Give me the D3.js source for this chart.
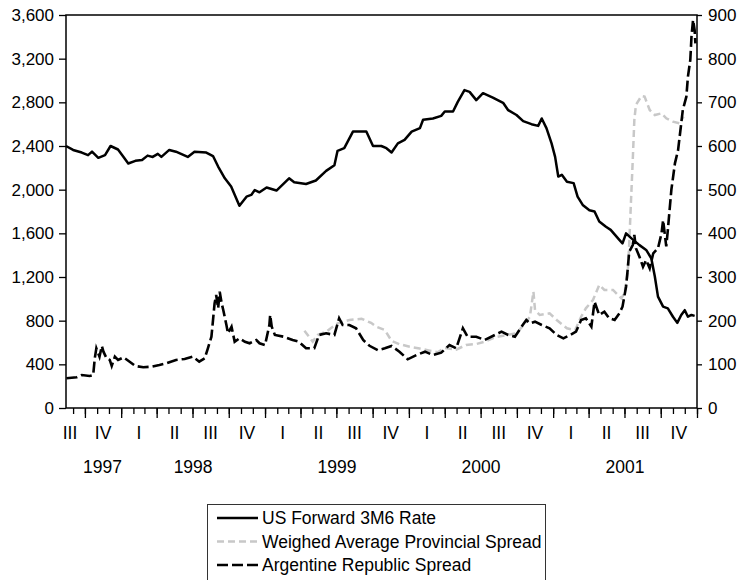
<!DOCTYPE html>
<html>
<head>
<meta charset="utf-8">
<script src="https://cdn.jsdelivr.net/npm/d3@7/dist/d3.min.js"></script>
<style>
  body { margin: 0; background: #fff; }
  text { font-family: Arial, "Liberation Sans", sans-serif; font-size: 17.5px; fill: #000; }
</style>
</head>
<body>
<div id="chart"></div>
<script>
// series values, [date, value]
var usRate = [
  ["1997-08-14",600],["1997-09-01",591],["1997-09-23",585],["1997-10-09",579],["1997-10-19",587],
  ["1997-11-04",573],["1997-11-21",579],["1997-12-05",600],["1997-12-24",592],["1998-01-07",575],
  ["1998-01-19",560],["1998-02-06",566],["1998-02-23",568],["1998-03-09",578],["1998-03-22",575],
  ["1998-04-04",582],["1998-04-13",575],["1998-05-03",591],["1998-05-20",587],["1998-06-19",575],
  ["1998-07-06",587],["1998-08-05",585],["1998-08-22",577],["1998-09-04",553],["1998-09-21",526],
  ["1998-10-07",507],["1998-10-28",463],["1998-11-15",484],["1998-11-27",488],["1998-12-06",499],
  ["1998-12-18",494],["1999-01-05",505],["1999-01-30",498],["1999-03-03",526],["1999-03-16",517],
  ["1999-04-15",513],["1999-05-10",521],["1999-06-05",543],["1999-06-26",556],["1999-07-04",589],
  ["1999-07-21",595],["1999-08-12",633],["1999-09-15",633],["1999-10-02",600],["1999-10-23",600],
  ["1999-11-05",595],["1999-11-18",585],["1999-12-04",606],["1999-12-21",614],["2000-01-08",633],
  ["2000-01-29",641],["2000-02-06",660],["2000-03-02",663],["2000-03-23",669],["2000-04-01",679],
  ["2000-04-22",679],["2000-05-04",701],["2000-05-21",728],["2000-06-03",724],["2000-06-20",705],
  ["2000-07-07",721],["2000-08-01",711],["2000-08-27",699],["2000-09-09",682],["2000-09-30",671],
  ["2000-10-17",657],["2000-11-07",650],["2000-11-24",646],["2000-12-03",663],["2000-12-15",641],
  ["2000-12-28",606],["2001-01-06",575],["2001-01-14",530],["2001-01-23",534],["2001-02-05",518],
  ["2001-02-22",515],["2001-03-04",484],["2001-03-17",465],["2001-04-03",453],["2001-04-16",450],
  ["2001-04-28",427],["2001-05-15",415],["2001-05-27",408],["2001-06-18",385],["2001-06-26",377],
  ["2001-07-05",400],["2001-07-18",389],["2001-08-08",373],["2001-08-25",362],["2001-09-07",343],
  ["2001-09-16",301],["2001-09-24",255],["2001-10-07",232],["2001-10-19",228],["2001-11-01",209],
  ["2001-11-12",195],["2001-11-22",213],["2001-12-01",224],["2001-12-09",209],["2001-12-18",213],
  ["2001-12-26",211]
];

var provSpread = [
  ["1999-04-11",708],["1999-05-02",607],["1999-05-14",669],["1999-06-05",699],["1999-07-04",776],
  ["1999-08-03",806],["1999-09-03",817],["1999-09-27",780],["1999-10-10",745],["1999-11-01",714],
  ["1999-11-18",615],["1999-12-08",585],["2000-01-03",561],["2000-01-28",545],["2000-02-23",525],
  ["2000-03-14",510],["2000-04-01",550],["2000-04-30",535],["2000-05-25",577],["2000-06-20",586],
  ["2000-07-11",607],["2000-08-06",647],["2000-09-05",669],["2000-09-30",684],["2000-10-25",791],
  ["2000-11-03",836],["2000-11-12",1065],["2000-11-16",898],["2000-11-28",852],["2000-12-23",867],
  ["2001-01-10",806],["2001-02-05",730],["2001-02-26",714],["2001-03-13",836],["2001-03-25",913],
  ["2001-04-12",989],["2001-04-28",1127],["2001-05-11",1081],["2001-06-02",1081],["2001-06-23",1005],
  ["2001-07-01",1051],["2001-07-09",1234],["2001-07-13",1500],["2001-07-18",1935],["2001-07-22",2272],
  ["2001-07-26",2638],["2001-07-30",2776],["2001-08-13",2858],["2001-08-21",2852],["2001-09-03",2730],
  ["2001-09-16",2684],["2001-10-03",2699],["2001-10-15",2654],["2001-11-01",2623],["2001-11-18",2608],
  ["2001-11-28",2670]
];

var argSpread = [
  ["1997-08-15",272],["1997-09-10",281],["1997-09-23",302],["1997-10-13",293],["1997-10-22",302],
  ["1997-10-26",455],["1997-10-30",547],["1997-11-07",470],["1997-11-13",568],["1997-11-17",516],
  ["1997-11-25",455],["1997-12-03",440],["1997-12-08",385],["1997-12-16",470],["1997-12-24",440],
  ["1998-01-07",464],["1998-01-19",433],["1998-02-06",385],["1998-02-26",373],["1998-03-18",378],
  ["1998-04-08",394],["1998-04-25",409],["1998-05-20",440],["1998-06-11",449],["1998-07-02",470],
  ["1998-07-18",424],["1998-08-01",455],["1998-08-09",547],["1998-08-18",653],["1998-08-22",806],
  ["1998-08-26",959],["1998-08-30",1035],["1998-09-04",913],["1998-09-08",1065],["1998-09-13",959],
  ["1998-09-17",898],["1998-09-25",760],["1998-09-29",684],["1998-10-08",745],["1998-10-16",607],
  ["1998-10-28",638],["1998-11-11",607],["1998-11-23",593],["1998-12-10",623],["1998-12-18",593],
  ["1999-01-01",577],["1999-01-12",760],["1999-01-14",852],["1999-01-18",745],["1999-01-26",669],
  ["1999-02-17",653],["1999-03-12",623],["1999-03-28",607],["1999-04-15",547],["1999-05-06",547],
  ["1999-05-18",669],["1999-06-05",684],["1999-06-26",669],["1999-07-08",822],["1999-07-17",760],
  ["1999-08-03",760],["1999-08-20",730],["1999-09-07",623],["1999-09-23",570],["1999-10-14",530],
  ["1999-11-01",547],["1999-11-18",568],["1999-12-08",516],["1999-12-29",446],["2000-01-20",485],
  ["2000-02-11",516],["2000-03-02",485],["2000-03-23",507],["2000-04-13",577],["2000-04-30",547],
  ["2000-05-17",730],["2000-05-29",653],["2000-06-20",653],["2000-07-11",623],["2000-08-06",669],
  ["2000-08-23",699],["2000-09-09",669],["2000-09-26",653],["2000-10-13",745],["2000-10-25",806],
  ["2000-11-03",776],["2000-11-16",791],["2000-12-03",760],["2000-12-23",730],["2001-01-10",669],
  ["2001-01-27",638],["2001-02-13",669],["2001-02-28",699],["2001-03-13",806],["2001-03-25",822],
  ["2001-04-08",745],["2001-04-16",974],["2001-04-28",852],["2001-05-11",882],["2001-05-23",822],
  ["2001-06-06",806],["2001-06-18",867],["2001-06-26",928],["2001-07-05",1111],["2001-07-09",1264],
  ["2001-07-13",1432],["2001-07-22",1493],["2001-07-26",1585],["2001-07-30",1463],["2001-08-08",1386],
  ["2001-08-17",1294],["2001-08-25",1356],["2001-09-03",1280],["2001-09-12",1417],["2001-09-24",1463],
  ["2001-10-03",1600],["2001-10-07",1720],["2001-10-15",1480],["2001-10-19",1630],["2001-10-28",2000],
  ["2001-11-06",2241],["2001-11-14",2363],["2001-11-18",2485],["2001-11-26",2730],["2001-12-05",2852],
  ["2001-12-09",3035],["2001-12-15",3188],["2001-12-18",3401],["2001-12-22",3554],["2001-12-26",3462],
  ["2001-12-28",3340]
];

var leftTicks = [0, 400, 800, 1200, 1600, 2000, 2400, 2800, 3200, 3600];
var rightTicks = [0, 100, 200, 300, 400, 500, 600, 700, 800, 900];
var quarterNames = ["I", "II", "III", "IV"];
var years = [1997, 1998, 1999, 2000, 2001];
var seriesNames = ["US Forward 3M6 Rate", "Weighed Average Provincial Spread", "Argentine Republic Spread"];

var W = 741, H = 580;
var x0 = 66, x1 = 697, yTop = 15, yBot = 408;
var parse = d3.timeParse("%Y-%m-%d");

var svg = d3.select("#chart").append("svg")
  .attr("width", W)
  .attr("height", H);

var x = d3.scaleTime()
  .domain([new Date(1997, 7, 14), new Date(2002, 0, 1)])
  .range([x0, x1]);
var yL = d3.scaleLinear().domain([0, 3600]).range([yBot, yTop]);
var yR = d3.scaleLinear().domain([0, 900]).range([yBot, yTop]);

// left & right axes
var gl = svg.append("g")
  .attr("transform", "translate(" + x0 + ",0)")
  .call(d3.axisLeft(yL).tickValues(leftTicks).tickSize(7).tickPadding(5).tickFormat(d3.format(",")));
var gr = svg.append("g")
  .attr("transform", "translate(" + x1 + ",0)")
  .call(d3.axisRight(yR).tickValues(rightTicks).tickSize(5).tickPadding(6));

// bottom ticks: months short, quarters long
var months = d3.timeMonth.range(new Date(1997, 8, 1), new Date(2002, 0, 2));
var quarters = months.filter(function(d) { return d.getMonth() % 3 === 0; });
var gb = svg.append("g")
  .attr("transform", "translate(0," + yBot + ")")
  .call(d3.axisBottom(x).tickValues(months).tickSize(6).tickFormat(""));
var gb2 = svg.append("g")
  .attr("transform", "translate(0," + yBot + ")")
  .call(d3.axisBottom(x).tickValues(quarters).tickSize(10).tickFormat(""));

[gl, gr, gb, gb2].forEach(function(g) {
  g.select(".domain").remove();
  g.selectAll("line").attr("stroke", "#000").attr("stroke-width", 1.3);
  g.selectAll("text").style("font-size", "17px").attr("fill", "#000");
});

// frame
svg.append("rect")
  .attr("x", x0).attr("y", yTop)
  .attr("width", x1 - x0).attr("height", yBot - yTop)
  .attr("fill", "none").attr("stroke", "#000").attr("stroke-width", 1.5);

// quarter labels
var qStarts = d3.timeMonth.every(3).range(new Date(1997, 6, 1), new Date(2002, 0, 1));
svg.append("g").selectAll("text")
  .data(qStarts)
  .enter()
  .append("text")
  .attr("x", function(d) {
    var end = d3.timeMonth.offset(d, 3);
    var c = (x(d) + x(end)) / 2;
    return Math.max(c, x0 + 4);
  })
  .attr("y", 439)
  .attr("text-anchor", "middle")
  .text(function(d) { return quarterNames[Math.floor(d.getMonth() / 3)]; });

// year labels
svg.append("g").selectAll("text")
  .data(years)
  .enter()
  .append("text")
  .attr("x", function(d) {
    var a = Math.max(x(new Date(d, 0, 1)), x0);
    var b = Math.min(x(new Date(d + 1, 0, 1)), x1);
    return (a + b) / 2 + (d === 1997 ? 9 : 0);
  })
  .attr("y", 473)
  .attr("text-anchor", "middle")
  .text(function(d) { return d; });

// lines
function lineFor(y) {
  return d3.line()
    .x(function(d) { return x(parse(d[0])); })
    .y(function(d) { return y(d[1]); });
}

svg.append("path")
  .datum(provSpread)
  .attr("d", lineFor(yL))
  .attr("fill", "none")
  .attr("stroke", "#c8c8c8")
  .attr("stroke-width", 2.5)
  .attr("stroke-dasharray", "7,4");

svg.append("path")
  .datum(argSpread)
  .attr("d", lineFor(yL))
  .attr("fill", "none")
  .attr("stroke", "#000")
  .attr("stroke-width", 2.6)
  .attr("stroke-dasharray", "11,4");

svg.append("path")
  .datum(usRate)
  .attr("d", lineFor(yR))
  .attr("fill", "none")
  .attr("stroke", "#000")
  .attr("stroke-width", 2.5)
  .attr("stroke-linejoin", "round");

// legend
var legend = svg.append("g");
legend.append("rect")
  .attr("x", 207.5).attr("y", 504.5)
  .attr("width", 338).attr("height", 90)
  .attr("fill", "none").attr("stroke", "#333").attr("stroke-width", 1);

var legendStyle = [
  {color: "#000", dash: null},
  {color: "#c8c8c8", dash: "7,4"},
  {color: "#000", dash: "11,4"}
];
var rows = legend.selectAll("g.row")
  .data(seriesNames)
  .enter()
  .append("g")
  .attr("class", "row")
  .attr("transform", function(d, i) { return "translate(0," + (518 + i * 23.5) + ")"; });
rows.append("line")
  .attr("x1", 217).attr("x2", 258)
  .attr("stroke", function(d, i) { return legendStyle[i].color; })
  .attr("stroke-width", 2.5)
  .attr("stroke-dasharray", function(d, i) { return legendStyle[i].dash; });
rows.append("text")
  .attr("x", 262).attr("y", 6)
  .text(function(d) { return d; });
</script>
</body>
</html>
